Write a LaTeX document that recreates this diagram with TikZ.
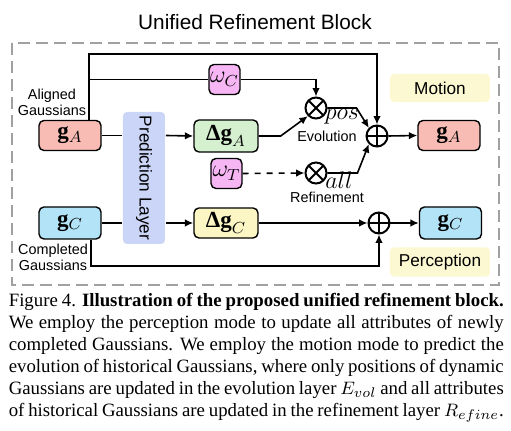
\documentclass[tikz,border=0pt]{standalone}
\usepackage{fontspec}
\setmainfont{Liberation Serif}
\newfontfamily\labelfont{Liberation Sans}
\usetikzlibrary{arrows.meta}
\definecolor{boxred}{HTML}{F8BCB4}
\definecolor{boxgreen}{HTML}{D4F0CF}
\definecolor{boxpink}{HTML}{F6B6F4}
\definecolor{boxblue}{HTML}{B2E3F7}
\definecolor{boxyellow}{HTML}{FBF6C4}
\definecolor{predblue}{HTML}{CBD5F7}
\definecolor{modeyellow}{HTML}{FCF8D2}
\definecolor{framegray}{HTML}{A0A0A0}
\tikzset{
  gbox/.style={draw, rounded corners=2.5pt, line width=0.7pt, minimum width=31pt, minimum height=15pt, inner sep=0pt, font=\fontsize{11.5}{12}\selectfont},
  wbox/.style={gbox, minimum width=15.5pt},
  modebox/.style={fill=modeyellow, rounded corners=2pt, minimum width=50pt, minimum height=14pt, font=\labelfont\fontsize{8.6}{10}\selectfont},
  opnode/.style={circle, draw, line width=1pt, minimum size=10.5pt, inner sep=0pt},
  otimesnode/.style={opnode, path picture={\draw[line width=1pt] (path picture bounding box.north west) -- (path picture bounding box.south east) (path picture bounding box.north east) -- (path picture bounding box.south west);}},
  oplusnode/.style={opnode, path picture={\draw[line width=1pt] (path picture bounding box.north) -- (path picture bounding box.south) (path picture bounding box.west) -- (path picture bounding box.east);}},
  arr/.style={-{Latex[length=4.2pt,width=3.8pt]}},
  sidetext/.style={font=\labelfont\fontsize{7.2}{8}\selectfont, align=center, inner sep=0pt},
  modetag/.style={inner sep=0pt, font=\fontsize{12.5}{13}\selectfont}
}

\begin{document}
\begin{tikzpicture}[x=0.5pt, y=-0.5pt, line width=0.8pt]
   \useasboundingbox (0,0) rectangle (511,431);
   \node (title) at (255,22) {\labelfont\fontsize{10.4}{12}\selectfont Unified Refinement Block};
   \draw[framegray, line width=1.2pt, dash pattern=on 6pt off 3pt] (12,43) rectangle (499,285);
   % input and output gaussians
   \node[gbox, fill=boxred] (gA) at (70,135.5) {$\mathbf{g}_A$};
   \node[gbox, fill=boxblue, minimum height=16pt] (gC) at (70,223) {$\mathbf{g}_C$};
   \node[gbox, fill=boxred] (gAo) at (449,135.5) {$\mathbf{g}_A$};
   \node[gbox, fill=boxblue, minimum height=16pt] (gCo) at (450.5,223) {$\mathbf{g}_C$};
   \node[fill=predblue, rounded corners=2pt, rotate=-90, minimum width=66pt, minimum height=21pt, inner sep=0pt, font=\labelfont\fontsize{8.6}{10}\selectfont] (pred) at (144,178) {Prediction Layer};
   \node[gbox, fill=boxgreen, minimum width=32pt, minimum height=16pt] (dgA) at (226,136) {$\textbf{Δg}_A$};
   \node[gbox, fill=boxyellow, minimum width=32pt, minimum height=15pt] (dgC) at (226,223) {$\textbf{Δg}_C$};
   \node[wbox, fill=boxpink] (omC) at (224.5,79.5) {$\omega_C$};
   \node[wbox, fill=boxpink] (omT) at (226.5,173.5) {$\omega_T$};
   \node[otimesnode] (otA) at (316,108) {};
   \node[otimesnode] (otT) at (316,173) {};
   \node[oplusnode] (opA) at (377,136) {};
   \node[oplusnode] (opC) at (379,223) {};
   \node[modebox] (motion) at (440,88) {Motion};
   \node[modebox] (percep) at (440,262) {Perception};
   % labels
   \node[sidetext] (algn) at (52,102) {Aligned\\Gaussians};
   \node[sidetext] (cmpl) at (53,257.5) {Completed\\Gaussians};
   \node[sidetext] (evol) at (327,136) {Evolution};
   \node[sidetext] (refn) at (327,197) {Refinement};
   \node[modetag] (pos) at (342,117) {$pos$};
   \node[modetag] (all) at (339,180) {$all$};
   % connectors
   \coordinate (topL) at (89,54);
   \coordinate (botL) at (91,266);
   \draw[arr] (gA.north -| topL) -- (topL) -| (opA.north);
   \draw (topL |- omC) -- (omC.west);
   \draw[arr] (omC.east) -| (otA.north);
   \draw (gA.east) -- (gA.east -| pred.south);
   \draw[arr] (gA.east -| pred.north) -- (dgA.west);
   \draw (gC.east) -- (gC.east -| pred.south);
   \draw[arr] (gC.east -| pred.north) -- (dgC.west);
   \draw[arr] (dgA.east) -- ++(22,0) -- (otA.south west);
   \draw[arr, dashed] (omT.east) -- (otT.west);
   \draw[arr] (otA.east) -- ++(29,0) -- (opA.north west);
   \draw[arr] (otT.east) -- ++(30,0) -- (opA.south west);
   \draw[arr] (opA.east) -- (gAo.west);
   \draw[arr] (dgC.east) -- (opC.west);
   \draw[arr] (opC.east) -- (gCo.west);
   \draw[arr] (gC.south -| botL) -- (botL) -| (opC.south);
   % caption
   \node[anchor=north west, text width=247.5pt, align=justify, inner sep=0pt, font=\fontsize{9.4}{11}\selectfont] (caption) at (8,292) {Figure 4. \textbf{Illustration of the proposed unified refinement block.}\linebreak We employ the perception mode to update all attributes of newly\linebreak completed Gaussians. We employ the motion mode to predict the\linebreak evolution of historical Gaussians, where only positions of dynamic\linebreak Gaussians are updated in the evolution layer $E_{vol}$ and all attributes\linebreak of historical Gaussians are updated in the refinement layer $R_{efine}$.};
\end{tikzpicture}
\end{document}
